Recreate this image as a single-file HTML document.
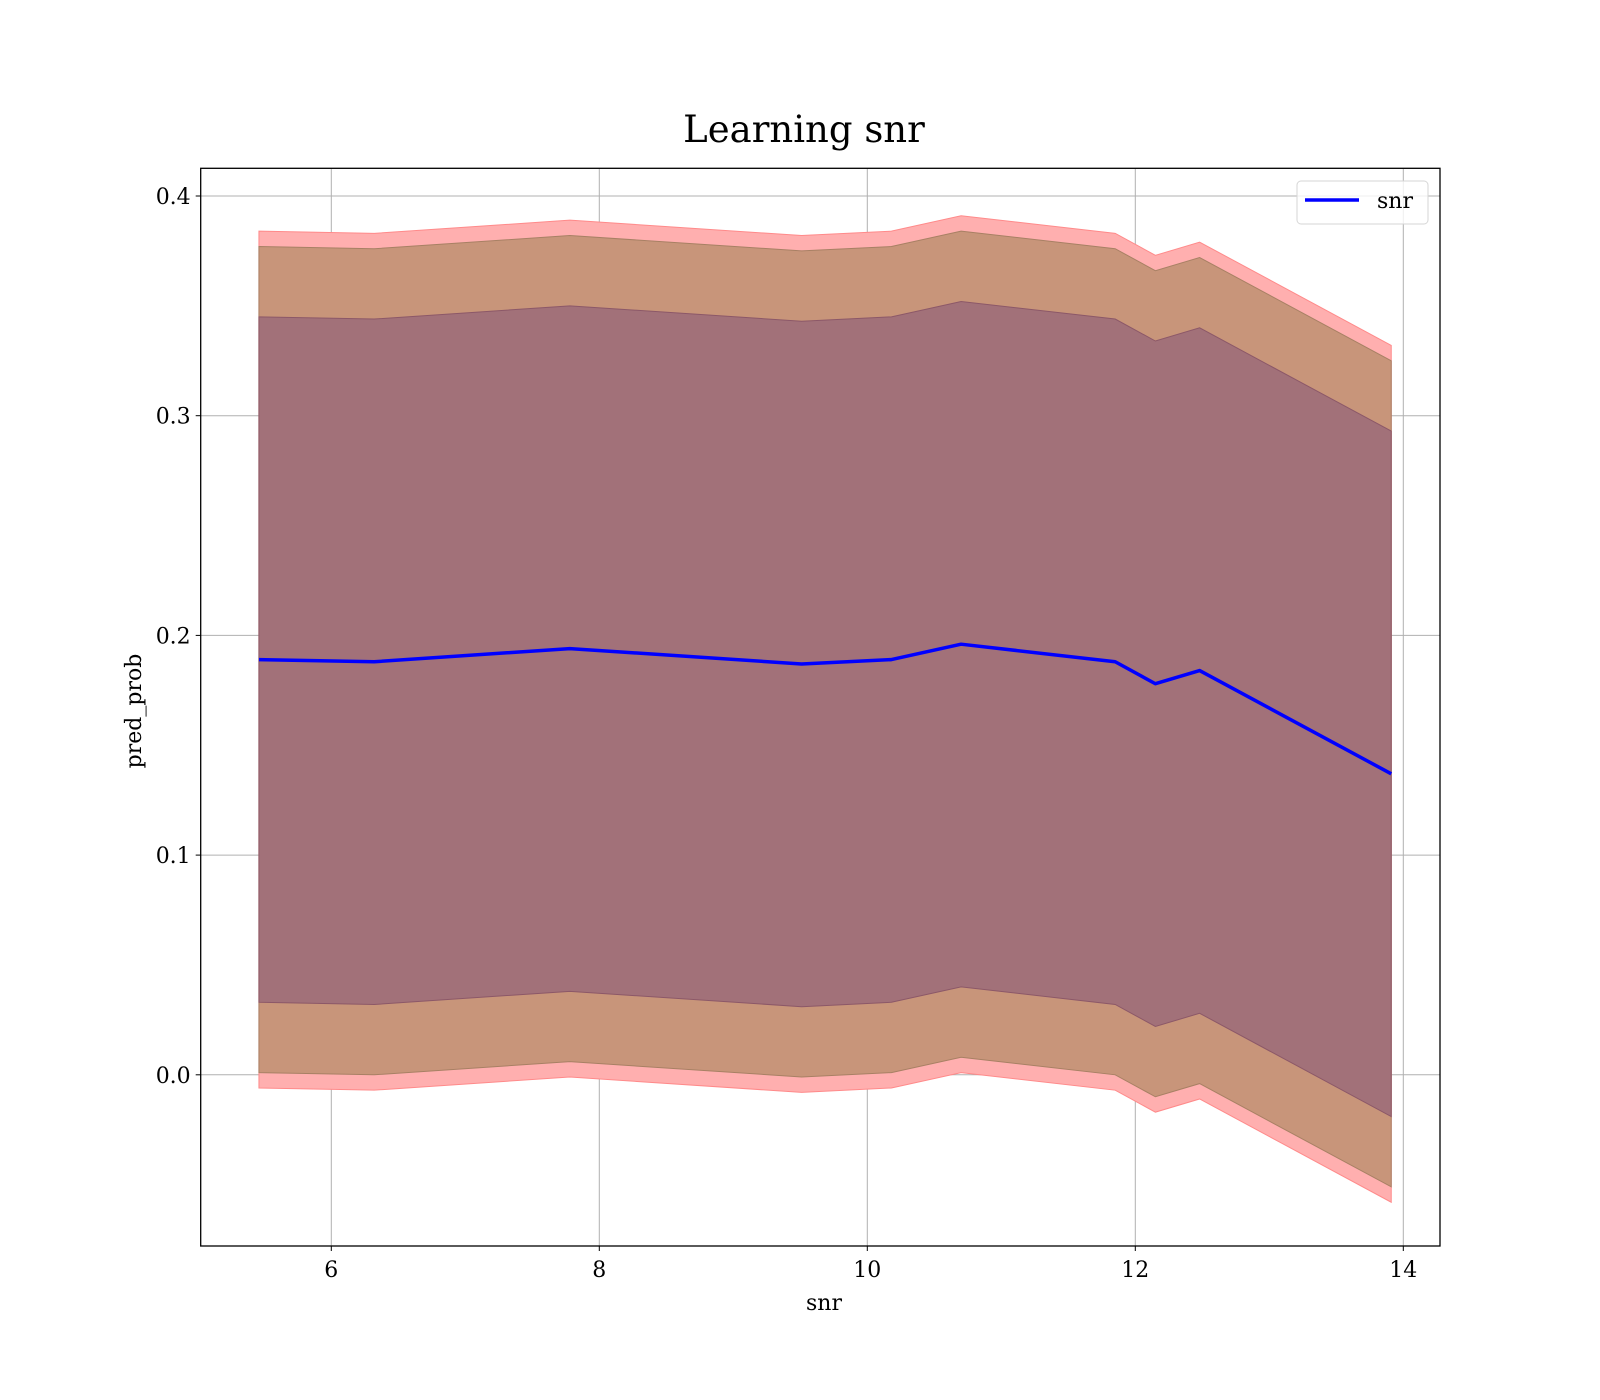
<!DOCTYPE html>
<html><head><meta charset="utf-8"><style>
html,body{margin:0;padding:0;background:#fff;}
svg{display:block;font-family:"DejaVu Serif","Liberation Serif",serif;}
</style></head><body>
<svg id="chart" width="1600" height="1400" viewBox="0 0 1600 1400">
<rect width="1600" height="1400" fill="#fff"/>
<text x="804" y="142" font-size="37" text-anchor="middle">Learning snr</text>
<g id="grid"></g>
<g id="bands"></g>
<g id="line"></g>
<rect x="200.7" y="168.3" width="1239.3" height="1077.7" fill="none" stroke="#000" stroke-width="1.3"/>
<g id="ticks"></g>
<text x="824" y="1310" font-size="22" text-anchor="middle">snr</text>
<text transform="translate(141,711) rotate(-90)" font-size="22" text-anchor="middle">pred_prob</text>
<g>
<rect x="1297" y="181" width="131" height="43" rx="4" fill="#fff" fill-opacity="0.8" stroke="#d6d6d6"/>
<line x1="1305" y1="200" x2="1359" y2="200" stroke="#0000ff" stroke-width="3.5"/>
<text x="1377" y="208" font-size="22">snr</text>
</g>
</svg>
<script>
const xs = [5.46, 6.32, 7.78, 9.51, 10.18, 10.70, 11.85, 12.15, 12.48, 13.91];
const means = [0.189, 0.188, 0.194, 0.187, 0.189, 0.196, 0.188, 0.178, 0.184, 0.137];
const bandOuter = [0.195, 0.195, 0.195, 0.195, 0.195, 0.195, 0.195, 0.195, 0.195, 0.195];
const bandMid = [0.188, 0.188, 0.188, 0.188, 0.188, 0.188, 0.188, 0.188, 0.188, 0.188];
const bandInner = [0.156, 0.156, 0.156, 0.156, 0.156, 0.156, 0.156, 0.156, 0.156, 0.156];
const xTicks = [6, 8, 10, 12, 14];
const yTicks = [0.0, 0.1, 0.2, 0.3, 0.4];
const yTickLabels = ["0.0", "0.1", "0.2", "0.3", "0.4"];

const L = 200.7, R = 1440, T = 168.3, B = 1246;
function sx(v){ return 1135.3 + (v - 12) * 134; }
function sy(v){ return 1074.8 - v * 2197; }
const NS = "http://www.w3.org/2000/svg";
function mk(tag, attrs, parent){
  const e = document.createElementNS(NS, tag);
  for (const k in attrs) e.setAttribute(k, attrs[k]);
  parent.appendChild(e);
  return e;
}
const grid = document.getElementById('grid');
const ticks = document.getElementById('ticks');
xTicks.forEach(function(t){
  const x = sx(t);
  const g = mk('line', {x1:x, x2:x, y1:T, y2:B, stroke:'#b0b0b0', 'stroke-width':1}, grid);
  
  
  const tk = mk('line', {x1:x, x2:x, y1:B, y2:B+5, stroke:'#000', 'stroke-width':1}, ticks);
  
  
  const tx = mk('text', {x:x, y:B+31, 'font-size':22, 'text-anchor':'middle'}, ticks);
  tx.textContent = String(t);
  
  
});
yTicks.forEach(function(t, i){
  const y = sy(t);
  const g = mk('line', {x1:L, x2:R, y1:y, y2:y, stroke:'#b0b0b0', 'stroke-width':1}, grid);
  
  
  const tk = mk('line', {x1:L-5, x2:L, y1:y, y2:y, stroke:'#000', 'stroke-width':1}, ticks);
  
  
  const tx = mk('text', {x:L-10, y:y+8, 'font-size':22, 'text-anchor':'end'}, ticks);
  tx.textContent = yTickLabels[i];
  
  
});
const bands = document.getElementById('bands');
function band(offs, fill, stroke, name){
  const up = xs.map(function(x, i){ return sx(x) + ',' + sy(means[i] + offs[i]); });
  const lo = xs.map(function(x, i){ return sx(x) + ',' + sy(means[i] - offs[i]); }).reverse();
  const p = mk('polygon', {points: up.concat(lo).join(' '), fill: fill, stroke: stroke, 'stroke-width': 1}, bands);
  
  
}
band(bandOuter, '#ffafaf', '#ff8a8a', 'band-outer');
band(bandMid, '#c8957a', '#a88064', 'band-middle');
band(bandInner, '#a27179', '#8c5868', 'band-inner');
const pts = xs.map(function(x, i){ return sx(x) + ',' + sy(means[i]); }).join(' ');
const ln = mk('polyline', {points: pts, fill:'none', stroke:'#0000ff', 'stroke-width':3.5, 'stroke-linejoin':'round'}, document.getElementById('line'));


</script>
</body></html>
